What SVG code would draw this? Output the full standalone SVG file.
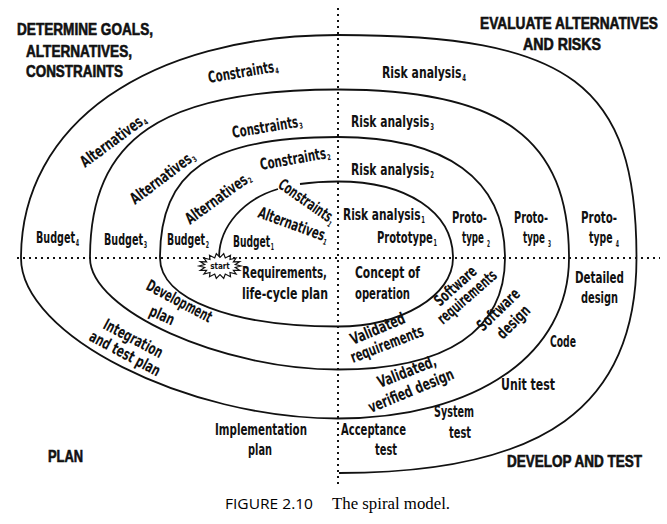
<svg xmlns="http://www.w3.org/2000/svg" width="667" height="524" viewBox="0 0 667 524">
<style>
.ax{fill:none;stroke:#111;stroke-width:2;stroke-dasharray:2 4}
.sp{fill:none;stroke:#111;stroke-width:1.8}
.l{font-family:"Liberation Sans Narrow","DejaVu Sans Condensed","Liberation Sans",sans-serif;font-size:16px;font-weight:bold;fill:#111}
.s{font-size:8px}
.h{font-family:"Liberation Sans","DejaVu Sans",sans-serif;font-size:16px;font-weight:900;fill:#111;stroke:#111;stroke-width:0.6}
.cap{font-family:"Open Sans","Liberation Sans",sans-serif;font-size:15px;fill:#000}
.cap2{font-family:"Liberation Serif","DejaVu Serif",serif;font-size:16px;fill:#000}
</style>
<rect width="667" height="524" fill="#fff"/>
<g id="axes">
<line class="ax" x1="338" y1="8" x2="338" y2="484"/>
<line class="ax" x1="17" y1="258" x2="660" y2="258"/>
</g>
<g id="connectors">
<path id="spiral" class="sp" d="M219,258 C219,226 244,199 278,189 M300,184 C312,182.3 325,181.5 338,181.5 C407,181.5 453,212.1 453,258 C453,295.7 401.3,326.5 338,326.5 C231.2,326.5 160,299.1 160,258 C160,170.9 209.8,137 338,137 C446.6,137 505,179.3 505,258 C505,330.5 446.6,369.5 338,369.5 C221.4,369.5 90,310.4 90,258 C90,138 162,89.5 338,89.5 C502,89.5 569,138.4 569,258 C569,354.3 476.6,418.5 338,418.5 C185.8,418.5 21,335 21,258 C21,124.2 147.8,35 338,35 C570.8,35 636.5,84.1 636.5,258 C636.5,406.4 544,473 339,473"/>
</g>
<g id="start">
<polygon fill="#fff" stroke="#111" stroke-width="1.2" points="241,266 235.3,267.5 239.7,270.3 233.4,270.3 236.1,274 230,272.5 230.5,276.8 225.3,274 223.7,278.3 220,274.5 216.3,278.3 214.7,274 209.5,276.8 210,272.5 203.9,274 206.6,270.3 200.3,270.3 204.7,267.5 199,266 204.7,264.5 200.3,261.7 206.6,261.8 203.9,258 210,259.5 209.5,255.2 214.7,258 216.3,253.7 220,257.5 223.7,253.7 225.3,258 230.5,255.2 230,259.5 236.1,258 233.4,261.8 239.7,261.7 235.3,264.5"/>
<text x="220" y="269" text-anchor="middle" style="font-family:'DejaVu Sans Condensed','Liberation Sans',sans-serif;font-size:8px;font-weight:bold;fill:#111">start</text>
</g>
<g id="headings">
<text class="h" x="17" y="35" textLength="136" lengthAdjust="spacingAndGlyphs">DETERMINE GOALS,</text>
<text class="h" x="26" y="57" textLength="106" lengthAdjust="spacingAndGlyphs">ALTERNATIVES,</text>
<text class="h" x="26" y="77" textLength="97" lengthAdjust="spacingAndGlyphs">CONSTRAINTS</text>
<text class="h" x="480" y="29" textLength="178" lengthAdjust="spacingAndGlyphs">EVALUATE ALTERNATIVES</text>
<text class="h" x="523" y="50" textLength="78" lengthAdjust="spacingAndGlyphs">AND RISKS</text>
<text class="h" x="48" y="462" textLength="35" lengthAdjust="spacingAndGlyphs">PLAN</text>
<text class="h" x="507" y="467" textLength="135" lengthAdjust="spacingAndGlyphs">DEVELOP AND TEST</text>
</g>
<g id="determine-labels">
<text class="l" transform="translate(209,83) rotate(-9.5)" textLength="71" lengthAdjust="spacingAndGlyphs">Constraints<tspan class="s" dx="1" dy="2">4</tspan></text>
<text class="l" transform="translate(233,138) rotate(-9.5)" textLength="71" lengthAdjust="spacingAndGlyphs">Constraints<tspan class="s" dx="1" dy="2">3</tspan></text>
<text class="l" transform="translate(261,170) rotate(-10)" textLength="71" lengthAdjust="spacingAndGlyphs">Constraints<tspan class="s" dx="1" dy="2">2</tspan></text>
<text class="l" transform="translate(277,187) rotate(35)" textLength="66" lengthAdjust="spacingAndGlyphs">Constraints<tspan class="s" dx="1" dy="3">1</tspan></text>
<text class="l" transform="translate(85,168) rotate(-36.5)" textLength="78" lengthAdjust="spacingAndGlyphs">Alternatives<tspan class="s" dx="1" dy="2">4</tspan></text>
<text class="l" transform="translate(135,205) rotate(-37)" textLength="77" lengthAdjust="spacingAndGlyphs">Alternatives<tspan class="s" dx="1" dy="2">3</tspan></text>
<text class="l" transform="translate(190,225) rotate(-36)" textLength="77" lengthAdjust="spacingAndGlyphs">Alternatives<tspan class="s" dx="1" dy="2">2</tspan></text>
<text class="l" transform="translate(257,217) rotate(20)" textLength="74" lengthAdjust="spacingAndGlyphs">Alternatives<tspan class="s" dx="1" dy="3">1</tspan></text>
<text class="l" x="36" y="243" textLength="43" lengthAdjust="spacingAndGlyphs">Budget<tspan class="s" dx="1" dy="3">4</tspan></text>
<text class="l" x="104" y="245" textLength="43" lengthAdjust="spacingAndGlyphs">Budget<tspan class="s" dx="1" dy="3">3</tspan></text>
<text class="l" x="167" y="245" textLength="42" lengthAdjust="spacingAndGlyphs">Budget<tspan class="s" dx="1" dy="3">2</tspan></text>
<text class="l" x="233" y="247" textLength="41" lengthAdjust="spacingAndGlyphs">Budget<tspan class="s" dx="1" dy="3">1</tspan></text>
</g>
<g id="evaluate-labels">
<text class="l" x="382" y="78" textLength="84" lengthAdjust="spacingAndGlyphs">Risk analysis<tspan class="s" dx="1" dy="3">4</tspan></text>
<text class="l" x="351" y="127" textLength="83" lengthAdjust="spacingAndGlyphs">Risk analysis<tspan class="s" dx="1" dy="3">3</tspan></text>
<text class="l" x="351" y="175" textLength="83" lengthAdjust="spacingAndGlyphs">Risk analysis<tspan class="s" dx="1" dy="3">2</tspan></text>
<text class="l" x="343" y="220" textLength="82" lengthAdjust="spacingAndGlyphs">Risk analysis<tspan class="s" dx="1" dy="3">1</tspan></text>
<text class="l" x="377" y="243" textLength="60" lengthAdjust="spacingAndGlyphs">Prototype<tspan class="s" dx="1" dy="3">1</tspan></text>
<text class="l" x="452" y="223" textLength="35" lengthAdjust="spacingAndGlyphs">Proto-</text>
<text class="l" x="462" y="243" textLength="28" lengthAdjust="spacingAndGlyphs">type <tspan class="s" dy="4">2</tspan></text>
<text class="l" x="514" y="223" textLength="34" lengthAdjust="spacingAndGlyphs">Proto-</text>
<text class="l" x="523" y="243" textLength="28" lengthAdjust="spacingAndGlyphs">type <tspan class="s" dy="4">3</tspan></text>
<text class="l" x="581" y="223" textLength="36" lengthAdjust="spacingAndGlyphs">Proto-</text>
<text class="l" x="589" y="243" textLength="30" lengthAdjust="spacingAndGlyphs">type <tspan class="s" dy="4">4</tspan></text>
</g>
<g id="plan-labels">
<text class="l" x="242" y="278" textLength="85" lengthAdjust="spacingAndGlyphs">Requirements,</text>
<text class="l" x="242" y="299" textLength="86" lengthAdjust="spacingAndGlyphs">life-cycle plan</text>
<text class="l" transform="translate(145,289) rotate(28)" textLength="72" lengthAdjust="spacingAndGlyphs">Development</text>
<text class="l" transform="translate(148,315) rotate(24)" textLength="26" lengthAdjust="spacingAndGlyphs">plan</text>
<text class="l" transform="translate(102,328) rotate(28)" textLength="65" lengthAdjust="spacingAndGlyphs">Integration</text>
<text class="l" transform="translate(88,340) rotate(28)" textLength="78" lengthAdjust="spacingAndGlyphs">and test plan</text>
<text class="l" x="215" y="435" textLength="92" lengthAdjust="spacingAndGlyphs">Implementation</text>
<text class="l" x="248" y="455" textLength="24" lengthAdjust="spacingAndGlyphs">plan</text>
</g>
<g id="develop-labels">
<text class="l" x="355" y="278" textLength="65" lengthAdjust="spacingAndGlyphs">Concept of</text>
<text class="l" x="355" y="299" textLength="55" lengthAdjust="spacingAndGlyphs">operation</text>
<text class="l" transform="translate(440,307) rotate(-42)" textLength="51" lengthAdjust="spacingAndGlyphs">Software</text>
<text class="l" transform="translate(443,325) rotate(-41)" textLength="73" lengthAdjust="spacingAndGlyphs">requirements</text>
<text class="l" transform="translate(483,332) rotate(-44)" textLength="53" lengthAdjust="spacingAndGlyphs">Software</text>
<text class="l" transform="translate(503,340) rotate(-45)" textLength="40" lengthAdjust="spacingAndGlyphs">design</text>
<text class="l" transform="translate(353,345) rotate(-23)" textLength="58" lengthAdjust="spacingAndGlyphs">Validated</text>
<text class="l" transform="translate(353,363) rotate(-21)" textLength="77" lengthAdjust="spacingAndGlyphs">requirements</text>
<text class="l" transform="translate(380,388) rotate(-21.5)" textLength="62" lengthAdjust="spacingAndGlyphs">Validated,</text>
<text class="l" transform="translate(371,413) rotate(-22.5)" textLength="91" lengthAdjust="spacingAndGlyphs">verified design</text>
<text class="l" x="575" y="283" textLength="49" lengthAdjust="spacingAndGlyphs">Detailed</text>
<text class="l" x="581" y="303" textLength="37" lengthAdjust="spacingAndGlyphs">design</text>
<text class="l" x="550" y="347" textLength="26" lengthAdjust="spacingAndGlyphs">Code</text>
<text class="l" x="501" y="390" textLength="54" lengthAdjust="spacingAndGlyphs">Unit test</text>
<text class="l" x="434" y="417" textLength="40" lengthAdjust="spacingAndGlyphs">System</text>
<text class="l" x="449" y="438" textLength="22" lengthAdjust="spacingAndGlyphs">test</text>
<text class="l" x="341" y="435" textLength="65" lengthAdjust="spacingAndGlyphs">Acceptance</text>
<text class="l" x="375" y="455" textLength="22" lengthAdjust="spacingAndGlyphs">test</text>
</g>
<g id="caption">
<text class="cap" x="225" y="509" textLength="88" lengthAdjust="spacingAndGlyphs">FIGURE 2.10</text>
<text class="cap2" x="332" y="509" textLength="118" lengthAdjust="spacingAndGlyphs">The spiral model.</text>
</g>
</svg>
